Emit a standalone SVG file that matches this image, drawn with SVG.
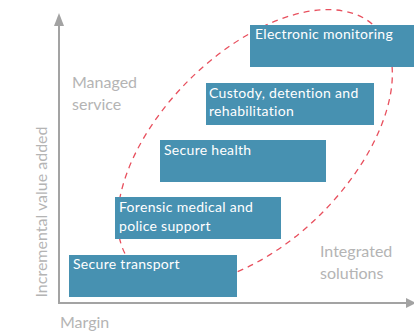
<svg xmlns="http://www.w3.org/2000/svg" width="414" height="333" viewBox="0 0 414 333">
<style>
.box{fill:#4791b1}
.bt{font-family:Lato,"Liberation Sans",sans-serif;font-size:14px;letter-spacing:0.3px;fill:#ffffff}
.lbl{font-family:Lato,"Liberation Sans",sans-serif;font-size:16px;fill:#b4b4b4}
.axis{stroke:#a3a3a3;stroke-width:2;fill:none}
.ell{fill:none;stroke:#e8505e;stroke-width:1.3;stroke-dasharray:6 5}
</style>
<rect width="414" height="333" fill="#ffffff"/>
<g id="connectors">
<line class="axis" x1="59" y1="24" x2="59" y2="303"/>
<line class="axis" x1="58" y1="303" x2="407" y2="303"/>
<polygon points="54,26 59,13 64,26" fill="#a3a3a3"/>
<polygon points="406,298 416,303 406,308" fill="#a3a3a3"/>
<ellipse class="ell" cx="255" cy="147" rx="170" ry="94" transform="rotate(-45 255 147)"/>
</g>
<g id="axis-labels">
<text class="lbl" x="60" y="328">Margin</text>
<text class="lbl" transform="translate(47 212) rotate(-90)" text-anchor="middle">Incremental value added</text>
<text class="lbl" x="72" y="88">Managed</text>
<text class="lbl" x="72" y="110">service</text>
<text class="lbl" x="320" y="257">Integrated</text>
<text class="lbl" x="320" y="279">solutions</text>
</g>
<g id="secure-transport">
<rect class="box" x="69" y="255" width="168" height="42"/>
<text class="bt" x="73" y="269">Secure transport</text>
</g>
<g id="forensic">
<rect class="box" x="115" y="197" width="166" height="42"/>
<text class="bt" x="119" y="212">Forensic medical and</text>
<text class="bt" x="119" y="231">police support</text>
</g>
<g id="secure-health">
<rect class="box" x="160" y="140" width="166" height="42"/>
<text class="bt" x="164" y="155">Secure health</text>
</g>
<g id="custody">
<rect class="box" x="206" y="83" width="168" height="42"/>
<text class="bt" x="209" y="98">Custody, detention and</text>
<text class="bt" x="209" y="116">rehabilitation</text>
</g>
<g id="electronic-monitoring">
<rect class="box" x="250" y="25" width="164" height="42"/>
<text class="bt" x="255" y="39">Electronic monitoring</text>
</g>
</svg>
